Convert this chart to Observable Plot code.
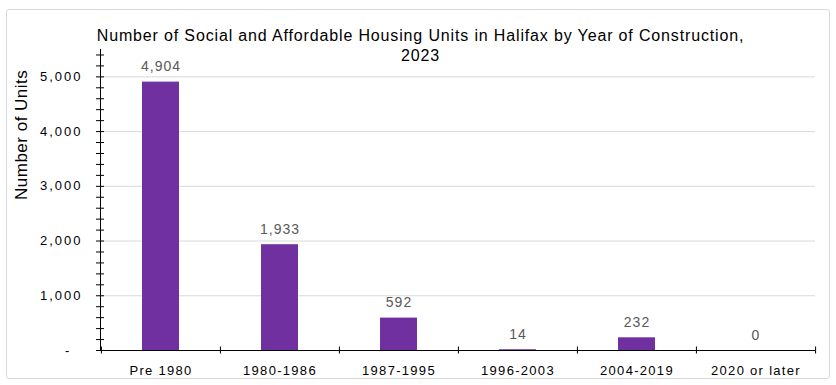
<!DOCTYPE html>
<html>
<head>
<meta charset="utf-8">
<script src="https://cdn.jsdelivr.net/npm/d3@7"></script>
<script src="https://cdn.jsdelivr.net/npm/@observablehq/plot@0.6"></script>
<style>
  html, body { margin: 0; padding: 0; background: #fff; }
  #wrap { position: relative; width: 836px; height: 385px; overflow: hidden; }
  #border { position: absolute; left: 6px; top: 9px; width: 822px; height: 368px;
            border: 1px solid #d9d9d9; border-radius: 3px; pointer-events: none; }
  #chart svg { position: absolute; left: 0; top: 0; }
</style>
</head>
<body>
<div id="wrap"><div id="chart"></div><div id="border"></div></div>
<script>
const title = "Number of Social and Affordable Housing Units in Halifax by Year of Construction,\n2023";
const yLabel = "Number of Units";
const categories = ["Pre 1980", "1980-1986", "1987-1995", "1996-2003", "2004-2019", "2020 or later"];
const units = [4904, 1933, 592, 14, 232, 0];
const yMajorTicks = [0, 1000, 2000, 3000, 4000, 5000];
const yMinorTicks = [0, 200, 400, 600, 800, 1000, 1200, 1400, 1600, 1800, 2000, 2200, 2400, 2600, 2800,
  3000, 3200, 3400, 3600, 3800, 4000, 4200, 4400, 4600, 4800, 5000, 5200, 5400];
const yMax = 5500;

const data = categories.map((c, i) => ({category: c, value: units[i]}));

const W = 836, H = 385, ML = 100, MR = 21, MT = 49, MB = 35;
const step = (W - ML - MR) / categories.length;
const font = "'Liberation Sans', Arial, sans-serif";

const plot = Plot.plot({
  width: W,
  height: H,
  marginLeft: ML,
  marginRight: MR,
  marginTop: MT,
  marginBottom: MB,
  style: {fontFamily: font, background: "transparent", overflow: "visible"},
  x: {domain: categories, paddingInner: 0.69, paddingOuter: 0.345, axis: null, label: null},
  y: {domain: [0, yMax], axis: null, label: null},
  marks: [
    Plot.ruleY(yMajorTicks.filter(d => d > 0), {stroke: "#d9d9d9", strokeWidth: 1}),
    Plot.barY(data, {x: "category", y: "value", fill: "#7030A0"}),
    Plot.ruleY([0], {stroke: "#000", strokeWidth: 1}),
    Plot.frame({anchor: "left", stroke: "#000", strokeWidth: 1}),
    // y minor/major tick marks crossing the axis
    Plot.axisY({ticks: yMinorTicks, tickSize: 8, dx: 4, tickFormat: () => "", label: null, stroke: "#000", strokeWidth: 1}),
    // y tick labels
    Plot.axisY({ticks: yMajorTicks, tickSize: 0, tickPadding: 18, fontSize: 13, fill: "#000", label: null,
      tickFormat: d => d === 0 ? "-\u00a0\u00a0" : d3.format(",")(d)}),
    // x boundary tick marks
    Plot.axisX({ticks: categories, tickSize: 7, dy: -3.5, dx: -step / 2, tickFormat: () => "", label: null, stroke: "#000"}),
    Plot.axisX({ticks: categories.slice(-1), tickSize: 7, dy: -3.5, dx: step / 2, tickFormat: () => "", label: null, stroke: "#000"}),
    // x tick labels
    Plot.axisX({tickSize: 0, tickPadding: 15, fontSize: 13, fill: "#000", label: null}),
    // value labels
    Plot.text(data, {x: "category", y: "value", text: d => d3.format(",")(d.value), dy: -11,
      lineAnchor: "bottom", fontSize: 14, fill: "#595959"}),
    // title
    Plot.text([title], {frameAnchor: "top", dx: -37.5, dy: -23, lineAnchor: "top", lineHeight: 1.25,
      fontSize: 16, fill: "#000"}),
    // y label
    Plot.text([yLabel], {frameAnchor: "left", rotate: -90, dx: -79, fontSize: 17, fill: "#000"})
  ]
});

document.getElementById("chart").appendChild(plot);
const svg = d3.select(plot);
svg.selectAll('g[aria-label="y-axis tick label"] text').style("letter-spacing", "2px");
svg.selectAll('g[aria-label="x-axis tick label"] text').style("letter-spacing", "1.3px");
const textGroups = svg.selectAll('g[aria-label="text"]').nodes();
d3.select(textGroups[0]).selectAll("text").style("letter-spacing", "1px");
d3.select(textGroups[1]).selectAll("text").style("letter-spacing", "0.85px");
d3.select(textGroups[2]).selectAll("text").style("letter-spacing", "0.5px");
</script>
</body>
</html>
